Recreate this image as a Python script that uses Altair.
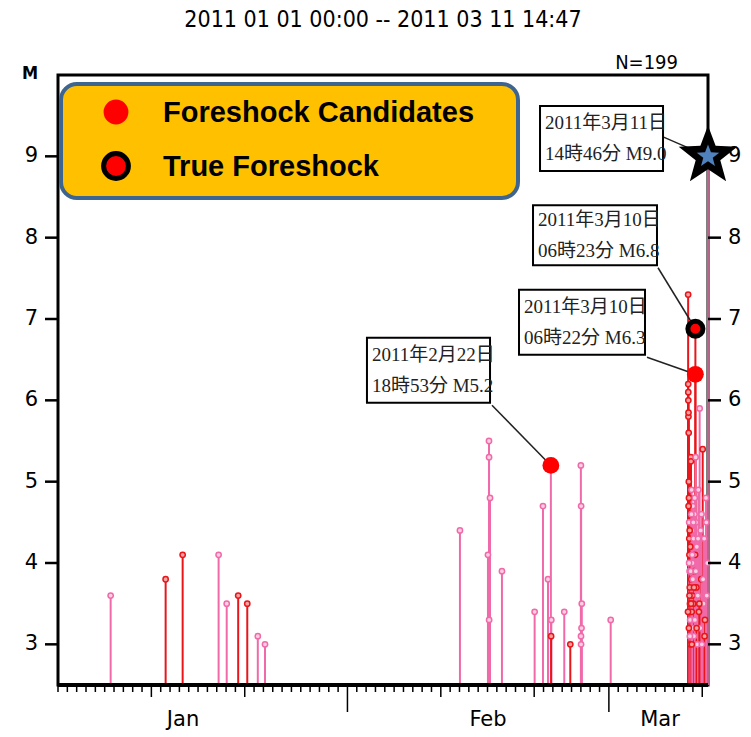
import math
import altair as alt
import pandas as pd

# ---------------- data ----------------
jan_time = ["2011-01-06T15:20", "2011-01-12T12:40", "2011-01-14T08:25", "2011-01-18T04:50",
            "2011-01-19T01:40", "2011-01-20T07:10", "2011-01-21T06:30", "2011-01-22T09:35",
            "2011-01-23T04:05"]
jan_mag = [3.6, 3.8, 4.1, 4.1, 3.5, 3.6, 3.5, 3.1, 3.0]
jan_kind = ["p", "r", "r", "p", "p", "r", "r", "p", "p"]

feb_time = ["2011-02-13T01:10",
            "2011-02-16T03:50", "2011-02-16T04:00", "2011-02-16T06:30", "2011-02-16T01:10", "2011-02-16T04:10",
            "2011-02-17T13:10", "2011-02-21T01:10", "2011-02-21T22:35", "2011-02-22T11:30", "2011-02-22T18:53",
            "2011-02-22T20:00", "2011-02-22T19:30", "2011-02-24T05:20", "2011-02-24T20:50",
            "2011-02-26T00:00", "2011-02-26T00:40", "2011-02-26T02:20", "2011-02-26T01:40", "2011-02-26T00:20",
            "2011-02-26T00:30", "2011-03-01T04:40"]
feb_mag = [4.4, 5.5, 5.3, 4.8, 4.1, 3.3, 3.9, 3.4, 4.7, 3.8, 5.2, 3.3, 3.1, 3.4, 3.0,
           5.2, 4.7, 3.5, 3.2, 3.1, 3.0, 3.3]
feb_kind = ["p", "p", "p", "p", "p", "p", "p", "p", "p", "p", "p", "p", "r", "p", "r",
            "p", "p", "p", "p", "p", "p", "p"]

mar_time = ["2011-03-09T11:45", "2011-03-09T11:58", "2011-03-09T12:08", "2011-03-09T12:15", "2011-03-09T12:30",
            "2011-03-09T12:40", "2011-03-09T13:10", "2011-03-09T13:30", "2011-03-09T13:50", "2011-03-09T14:20",
            "2011-03-09T14:40", "2011-03-09T15:00", "2011-03-09T15:30", "2011-03-09T16:00", "2011-03-09T16:30",
            "2011-03-09T17:00", "2011-03-09T17:30", "2011-03-09T18:00", "2011-03-09T18:30", "2011-03-09T19:00",
            "2011-03-09T19:30", "2011-03-09T20:00", "2011-03-09T20:30", "2011-03-09T21:00", "2011-03-09T21:30",
            "2011-03-09T22:00", "2011-03-09T22:40", "2011-03-09T23:20", "2011-03-10T00:00", "2011-03-10T00:50",
            "2011-03-10T01:40", "2011-03-10T02:30", "2011-03-10T03:20", "2011-03-10T04:10", "2011-03-10T05:00",
            "2011-03-10T05:40", "2011-03-10T06:22", "2011-03-10T06:23", "2011-03-10T07:00", "2011-03-10T08:00",
            "2011-03-10T09:00", "2011-03-10T10:00", "2011-03-10T11:00", "2011-03-10T12:30", "2011-03-10T14:00",
            "2011-03-10T15:30", "2011-03-10T17:20", "2011-03-10T18:40", "2011-03-10T20:00", "2011-03-10T21:30",
            "2011-03-10T23:00", "2011-03-11T01:10", "2011-03-11T03:00", "2011-03-11T05:00", "2011-03-11T07:00",
            "2011-03-11T09:30", "2011-03-11T11:30", "2011-03-11T13:00",
            "2011-03-09T11:20", "2011-03-09T12:50", "2011-03-09T13:40", "2011-03-09T14:10", "2011-03-09T15:15",
            "2011-03-09T15:45", "2011-03-09T16:15", "2011-03-09T17:15", "2011-03-09T18:15", "2011-03-09T19:15",
            "2011-03-09T20:15", "2011-03-09T21:15", "2011-03-09T22:20", "2011-03-09T23:50", "2011-03-10T01:10",
            "2011-03-10T02:50", "2011-03-10T04:40", "2011-03-10T07:30", "2011-03-10T09:30", "2011-03-10T13:20",
            "2011-03-10T16:30", "2011-03-10T22:10", "2011-03-11T02:10", "2011-03-11T06:00", "2011-03-11T10:30",
            "2011-03-11T14:46"]
mar_mag = [7.3, 6.2, 6.1, 6.0, 5.8, 5.85, 5.6, 5.0, 4.8, 4.5,
           4.3, 4.1, 3.9, 3.7, 3.5, 3.3, 3.0, 4.6, 5.3, 5.25,
           4.2, 3.8, 4.9, 3.4, 4.4, 3.6, 4.0, 3.2, 4.7, 3.5,
           4.3, 3.1, 3.9, 4.6, 3.3, 4.1, 6.32, 6.88, 5.3, 4.5,
           3.7, 4.2, 3.0, 3.6, 4.9, 3.4, 5.9, 3.2, 4.4, 3.8,
           3.0, 5.4, 3.5, 4.3, 3.3, 4.8, 3.6, 4.0,
           3.4, 4.7, 3.2, 4.0, 3.6, 4.4, 3.1, 4.2, 3.9, 3.5,
           4.6, 3.0, 4.1, 3.8, 4.5, 3.7, 4.8, 3.9, 3.2, 4.3,
           3.5, 4.6, 3.8, 3.1, 4.5, 9.0]
mar_kind = ["r", "r", "r", "r", "r", "r", "r", "r", "r", "p",
            "r", "r", "p", "r", "r", "p", "r", "r", "r", "r",
            "p", "r", "p", "r", "p", "r", "p", "p", "p", "r",
            "p", "p", "r", "p", "p", "r", "r", "r", "p", "p",
            "r", "p", "p", "p", "p", "r", "p", "p", "p", "r",
            "p", "r", "p", "p", "r", "p", "p", "p",
            "r", "r", "r", "p", "r", "r", "p", "r", "p", "r",
            "p", "r", "p", "p", "p", "r", "p", "p", "r", "p",
            "r", "p", "p", "r", "p", "m"]

cand_time = ["2011-02-22T18:53", "2011-03-10T06:22"]
cand_mag = [5.2, 6.32]
true_time = ["2011-03-10T06:23"]
true_mag = [6.88]
main_time = ["2011-03-11T14:46"]
main_mag = [9.0]

ann_text = ["2011年3月11日\n14時46分 M9.0", "2011年3月10日\n06時23分 M6.8",
            "2011年3月10日\n06時22分 M6.3", "2011年2月22日\n18時53分 M5.2"]
box_left = ["2011-02-21T15:00", "2011-02-20T21:00", "2011-02-19T09:00", "2011-02-03T02:10"]
box_right = ["2011-03-06T19:10", "2011-03-06T03:40", "2011-03-04T20:50", "2011-02-16T06:30"]
box_top = [9.62, 8.40, 7.36, 6.77]
box_bottom = [8.82, 7.66, 6.56, 5.97]
lead_from_t = ["2011-03-06T19:10", "2011-03-06T06:15", "2011-03-05T02:00", "2011-02-16T11:30"]
lead_from_m = [9.24, 7.63, 6.53, 5.94]
lead_to_t = ["2011-03-11T14:46", "2011-03-10T06:23", "2011-03-10T06:22", "2011-02-22T18:53"]
lead_to_m = [9.0, 6.88, 6.32, 5.2]

month_names = ["Jan", "Feb", "Mar"]
month_label_time = ["2011-01-14T09:20", "2011-02-16T01:15", "2011-03-06T11:20"]
y_ticks = [3, 4, 5, 6, 7, 8, 9]

title_text = "2011 01 01 00:00 -- 2011 03 11 14:47"
count_text = "N=199"
legend_labels = ["Foreshock Candidates", "True Foreshock"]

# ---------------- tables ----------------
ev = pd.DataFrame({"t": jan_time + feb_time + mar_time,
                   "m": jan_mag + feb_mag + mar_mag,
                   "kind": jan_kind + feb_kind + mar_kind})
cand = pd.DataFrame({"t": cand_time, "m": cand_mag})
true_df = pd.DataFrame({"t": true_time, "m": true_mag})
main = pd.DataFrame({"t": main_time, "m": main_mag})
ann = pd.DataFrame({"label": ann_text, "bl": box_left, "br": box_right, "bt": box_top, "bb": box_bottom,
                    "bm": [(a + b) / 2 for a, b in zip(box_top, box_bottom)],
                    "ft": lead_from_t, "fm": lead_from_m, "tt": lead_to_t, "tm": lead_to_m})
months = pd.DataFrame({"t": month_label_time, "name": month_names})
yt = pd.DataFrame({"v": y_ticks, "lab": [str(v) for v in y_ticks]})
days = pd.date_range("2011-01-01", "2011-03-11", freq="D")
ticks = pd.DataFrame({"t": [d.strftime("%Y-%m-%dT00:00") for d in days],
                      "kind": ["long" if (d.day == 1 and d.month > 1) else
                               ("mid" if d.day in (11, 21) else "short") for d in days]})
one = pd.DataFrame({"a": [0]})

PINK = "#F06AAA"
RED = "#E8161B"
MAUVE = "#B8668A"
NARROW = "DejaVu Sans Condensed, Liberation Sans Narrow, sans-serif"
AXF = "DejaVu Sans"
SERIF_JP = "Liberation Serif, Noto Sans CJK JP"
BOLDF = "Liberation Sans, Arial"

# five-pointed star symbol path in the unit box
pts = []
for i in range(10):
    r = 1.0 if i % 2 == 0 else 0.42
    a = -math.pi / 2 + i * math.pi / 5
    pts.append((r * math.cos(a), r * math.sin(a)))
STAR = "M" + " L".join(f"{x:.4f},{y:.4f}" for x, y in pts) + " Z"

xdom = [alt.DateTime(year=2011, month=1, date=1, hours=0, minutes=0),
        alt.DateTime(year=2011, month=3, date=11, hours=14, minutes=47)]
xscale = alt.Scale(domain=xdom)
yscale = alt.Scale(domain=[2.5, 10], nice=False, zero=False)


def X(f):
    return alt.X(f, type="temporal", scale=xscale, axis=None)


def Y(f):
    return alt.Y(f, type="quantitative", scale=yscale, axis=None)


kind_color = alt.Scale(domain=["p", "r", "m"], range=[PINK, RED, MAUVE])
kind_fill = alt.Scale(domain=["p", "r", "m"], range=["#FAD0E2", "#F5A3A3", MAUVE])

stems = alt.Chart(ev).mark_rule().encode(
    x=X("t"), y=Y("m"), y2=alt.datum(2.5),
    color=alt.Color("kind:N", scale=kind_color, legend=None),
    size=alt.Size("kind:N", scale=alt.Scale(domain=["p", "r", "m"], range=[2, 2, 3.5]), legend=None),
)

rings = alt.Chart(ev).transform_filter(alt.datum.kind != "m").mark_circle(
    size=28, strokeWidth=1.5, opacity=1).encode(
    x=X("t"), y=Y("m"),
    stroke=alt.Stroke("kind:N", scale=kind_color, legend=None),
    fill=alt.Fill("kind:N", scale=kind_fill, legend=None),
)

# magnitude axes (left and right), drawn through the y scale
l_ticks = alt.Chart(yt).mark_rule(color="black", strokeWidth=2.5).encode(
    y=Y("v"), x=alt.value(-13), x2=alt.value(0))
l_labels = alt.Chart(yt).mark_text(align="right", baseline="middle", font=AXF, fontSize=21,
                                   color="black").encode(y=Y("v"), x=alt.value(-20), text="lab:N")
r_ticks = alt.Chart(yt).mark_rule(color="black", strokeWidth=2.5).encode(
    y=Y("v"), x=alt.value(650), x2=alt.value(663))
r_labels = alt.Chart(yt).mark_text(align="left", baseline="middle", font=AXF, fontSize=21,
                                   color="black").encode(y=Y("v"), x=alt.value(670), text="lab:N")
bottom_line = alt.Chart(one).mark_rule(color="black", strokeWidth=4).encode(
    x=alt.value(0), x2=alt.value(650), y=alt.value(610))

tick_rules = []
for k, ln in [("short", 617), ("mid", 622), ("long", 637)]:
    tick_rules.append(alt.Chart(ticks).transform_filter(alt.datum.kind == k).mark_rule(
        color="black", strokeWidth=1.5).encode(x=X("t"), y=alt.value(610), y2=alt.value(ln)))

month_text = alt.Chart(months).mark_text(font=AXF, fontSize=21, baseline="middle", align="center",
                                          color="black").encode(
    x=X("t"), y=alt.value(645), text="name:N")

leaders = alt.Chart(ann).mark_rule(color="#222222", strokeWidth=1.5).encode(
    x=X("ft"), x2="tt:T", y=Y("fm"), y2="tm:Q")
boxes = alt.Chart(ann).mark_rect(fill="white", stroke="black", strokeWidth=2).encode(
    x=X("bl"), x2="br:T", y=Y("bt"), y2="bb:Q")
box_text = alt.Chart(ann).mark_text(align="left", baseline="middle", dx=5, dy=-15, lineBreak="\n",
                                    fontSize=19, lineHeight=31, font=SERIF_JP, color="#222222").encode(
    x=X("bl"), y=Y("bm"), text="label:N")

cand_pts = alt.Chart(cand).mark_circle(size=283, color="#FF0000", opacity=1).encode(x=X("t"), y=Y("m"))
true_pts = alt.Chart(true_df).mark_point(size=227, filled=True, fill="#FF0000", stroke="black",
                                         strokeWidth=5, opacity=1).encode(x=X("t"), y=Y("m"))
star_big = alt.Chart(main).mark_point(shape=STAR, size=3800, filled=True, color="black",
                                      opacity=1).encode(x=X("t"), y=Y("m"))
star_small = alt.Chart(main).mark_point(shape=STAR, size=560, filled=True, color="#4F81BD",
                                        opacity=1).encode(x=X("t"), y=Y("m"))

legend_box = alt.Chart(one).mark_rect(fill="#FFC000", stroke="#3E6590", strokeWidth=4, cornerRadius=16).encode(
    x=alt.value(3), x2=alt.value(460), y=alt.value(9), y2=alt.value(123))
leg_dot1 = alt.Chart(one).mark_point(size=616, filled=True, fill="#FF0000", strokeWidth=0, opacity=1).encode(
    x=alt.value(58), y=alt.value(37))
leg_dot2 = alt.Chart(one).mark_point(size=616, filled=True, fill="#FF0000", stroke="black", strokeWidth=5,
                                     opacity=1).encode(x=alt.value(58), y=alt.value(91))
leg_t1 = alt.Chart(one).mark_text(align="left", baseline="middle", fontSize=29, fontWeight="bold", font=BOLDF,
                                  color="black").encode(x=alt.value(105), y=alt.value(38),
                                                        text=alt.value(legend_labels[0]))
leg_t2 = alt.Chart(one).mark_text(align="left", baseline="middle", fontSize=29, fontWeight="bold", font=BOLDF,
                                  color="black").encode(x=alt.value(105), y=alt.value(92),
                                                        text=alt.value(legend_labels[1]))

title = alt.Chart(one).mark_text(align="center", baseline="alphabetic", fontSize=23, font=NARROW,
                                 color="black").encode(x=alt.value(325), y=alt.value(-48),
                                                       text=alt.value(title_text))
ncount = alt.Chart(one).mark_text(align="right", baseline="alphabetic", fontSize=20, font=NARROW,
                                  color="black").encode(x=alt.value(620), y=alt.value(-6),
                                                        text=alt.value(count_text))
mlabel = alt.Chart(one).mark_text(align="center", baseline="middle", fontSize=18, fontWeight="bold", font=NARROW,
                                  color="black").encode(x=alt.value(-28), y=alt.value(-1), text=alt.value("M"))

chart = alt.layer(
    stems, rings, l_ticks, l_labels, r_ticks, r_labels, bottom_line, *tick_rules, month_text,
    leaders, boxes, box_text, cand_pts, true_pts, star_big, star_small,
    legend_box, leg_dot1, leg_dot2, leg_t1, leg_t2, title, ncount, mlabel,
).properties(
    width=650, height=610,
    background="white",
    autosize=alt.AutoSizeParams(type="none"),
    padding={"left": 58, "top": 75, "right": 43, "bottom": 52},
).configure_view(stroke="black", strokeWidth=3)

chart.save("out.html", embed_options={"renderer": "svg", "actions": False})
